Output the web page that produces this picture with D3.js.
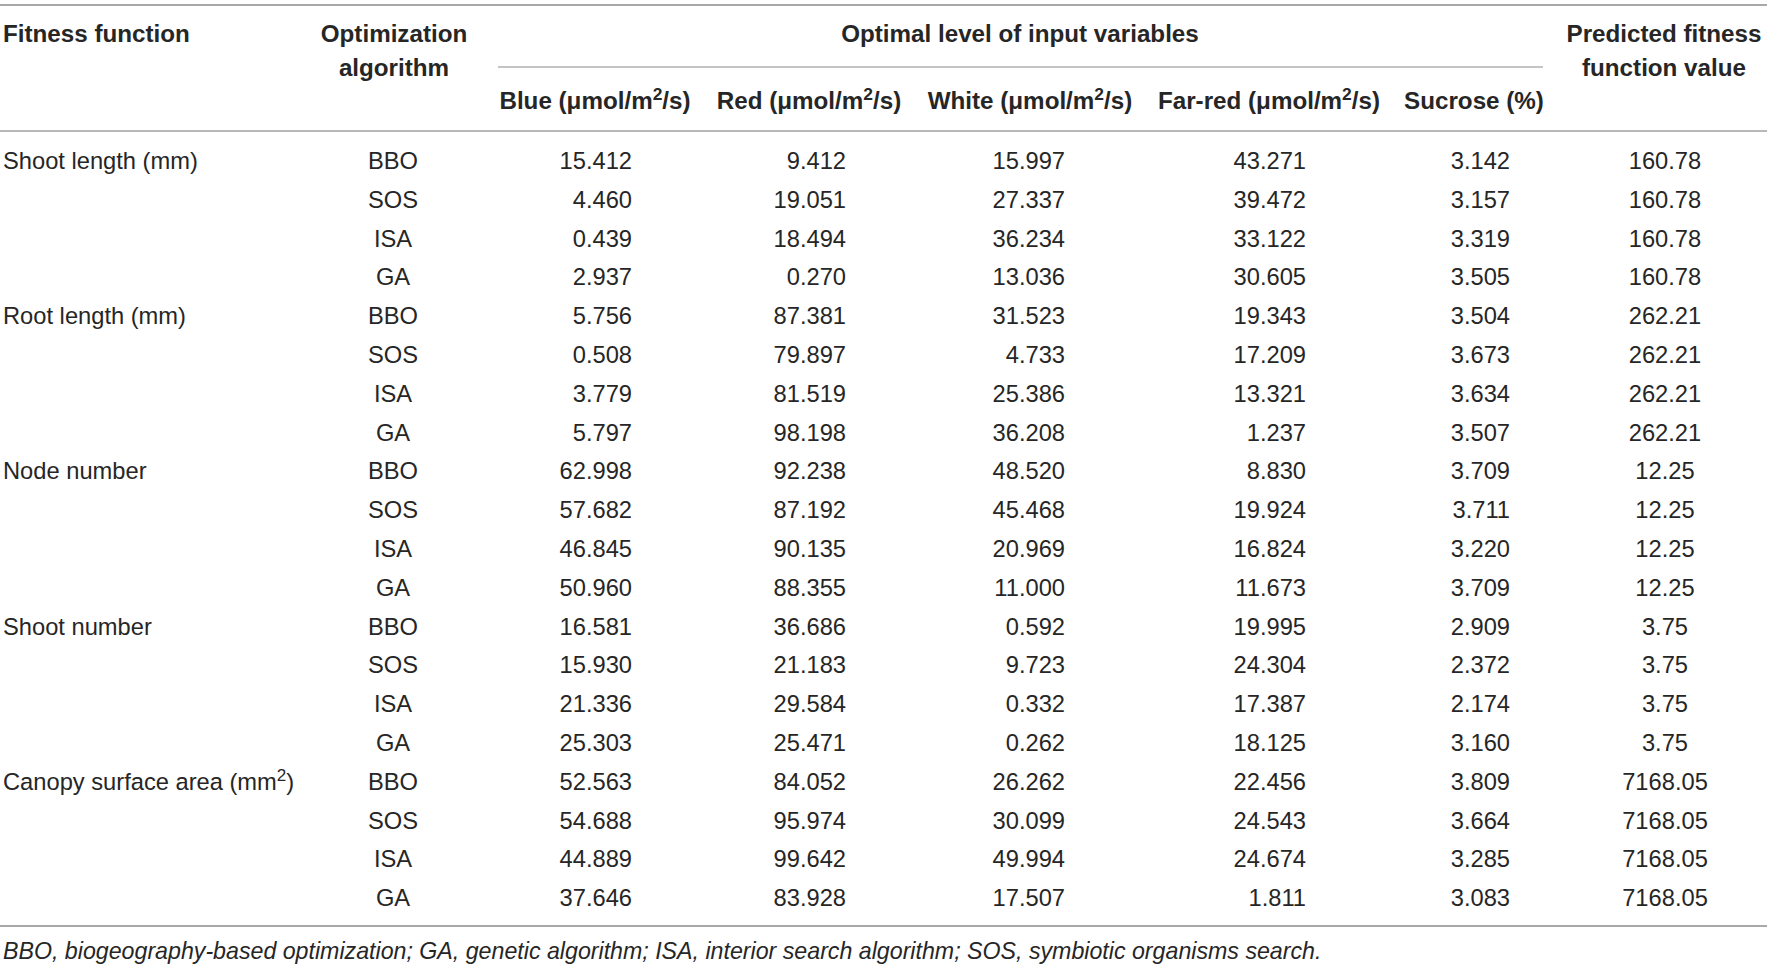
<!DOCTYPE html>
<html>
<head>
<meta charset="utf-8">
<script src="https://cdn.jsdelivr.net/npm/d3@7"></script>
<style>
  body { margin: 0; background: #fff; }
  svg { font-family: 'Liberation Sans', Arial, sans-serif; }
</style>
</head>
<body>
<svg></svg>
<script>
// table data
let fitnessFunctions = ['Shoot length (mm)', 'Root length (mm)', 'Node number', 'Shoot number', 'Canopy surface area (mm2)']
let algorithms = ['BBO', 'SOS', 'ISA', 'GA']
let blue = [15.412, 4.460, 0.439, 2.937, 5.756, 0.508, 3.779, 5.797, 62.998, 57.682, 46.845, 50.960,
            16.581, 15.930, 21.336, 25.303, 52.563, 54.688, 44.889, 37.646]
let red = [9.412, 19.051, 18.494, 0.270, 87.381, 79.897, 81.519, 98.198, 92.238, 87.192, 90.135, 88.355,
           36.686, 21.183, 29.584, 25.471, 84.052, 95.974, 99.642, 83.928]
let white = [15.997, 27.337, 36.234, 13.036, 31.523, 4.733, 25.386, 36.208, 48.520, 45.468, 20.969, 11.000,
             0.592, 9.723, 0.332, 0.262, 26.262, 30.099, 49.994, 17.507]
let farRed = [43.271, 39.472, 33.122, 30.605, 19.343, 17.209, 13.321, 1.237, 8.830, 19.924, 16.824, 11.673,
              19.995, 24.304, 17.387, 18.125, 22.456, 24.543, 24.674, 1.811]
let sucrose = [3.142, 3.157, 3.319, 3.505, 3.504, 3.673, 3.634, 3.507, 3.709, 3.711, 3.220, 3.709,
               2.909, 2.372, 2.174, 3.160, 3.809, 3.664, 3.285, 3.083]
let predicted = [160.78, 262.21, 12.25, 3.75, 7168.05]
let footnote = 'BBO, biogeography-based optimization; GA, genetic algorithm; ISA, interior search algorithm; SOS, symbiotic organisms search.'

let width = 1772
let height = 966
let lineRight = 1767

let svg = d3.select('svg').attr('width', width).attr('height', height)

let rows = d3.range(fitnessFunctions.length * algorithms.length)

let yScale = d3.scaleBand()
               .domain(rows)
               .range([141.3, 917.3])

let rowY = (i) => yScale(i) + yScale.bandwidth() / 2

let textColor = '#262626'

// horizontal rules
let rules = [
  {y: 5, x1: 0, x2: lineRight, w: 2, c: '#a8a8a8'},
  {y: 67, x1: 498, x2: 1543, w: 1.2, c: '#8a8a8a'},
  {y: 131, x1: 0, x2: lineRight, w: 2, c: '#b8b8b8'},
  {y: 926, x1: 0, x2: lineRight, w: 2, c: '#a8a8a8'}
]
svg.selectAll('line.rule')
   .data(rules)
   .enter()
   .append('line')
   .attr('class', 'rule')
   .attr('x1', (d) => d.x1)
   .attr('x2', (d) => d.x2)
   .attr('y1', (d) => d.y)
   .attr('y2', (d) => d.y)
   .attr('stroke', (d) => d.c)
   .attr('stroke-width', (d) => d.w)

// helper: text with optional superscript "2"
let addLabel = (g, str, x, y, anchor, opts) => {
  let t = g.append('text')
           .attr('x', x)
           .attr('y', y + opts.size * 0.35)
           .attr('text-anchor', anchor)
           .attr('fill', textColor)
           .attr('font-size', opts.size)
           .attr('font-weight', opts.weight || 'normal')
  let parts = str.split('2')
  if (opts.sup && parts.length > 1) {
    let rise = opts.size * 0.38
    parts.forEach((p, i) => {
      let sp = t.append('tspan').text(p)
      if (i > 0) sp.attr('dy', rise)
      if (i < parts.length - 1) {
        t.append('tspan').text('2')
         .attr('dy', -rise)
         .attr('font-size', opts.size * 0.72)
      }
    })
  } else {
    t.text(str)
  }
  return t
}

// header
let header = svg.append('g')
let hs = 24.2
let hw = 'bold'
addLabel(header, 'Fitness function', 3, 34, 'start', {size: hs, weight: hw})
addLabel(header, 'Optimization', 394, 34, 'middle', {size: hs, weight: hw})
addLabel(header, 'algorithm', 394, 68, 'middle', {size: hs, weight: hw})
addLabel(header, 'Optimal level of input variables', 1020, 34, 'middle', {size: hs, weight: hw})
addLabel(header, 'Predicted fitness', 1664, 34, 'middle', {size: hs, weight: hw})
addLabel(header, 'function value', 1664, 68, 'middle', {size: hs, weight: hw})

let varHeaders = ['Blue (μmol/m2/s)', 'Red (μmol/m2/s)', 'White (μmol/m2/s)', 'Far-red (μmol/m2/s)', 'Sucrose (%)']
let varHeaderX = [595, 809, 1030, 1269, 1474]
varHeaders.forEach((h, i) => {
  addLabel(header, h, varHeaderX[i], 101, 'middle', {size: hs, weight: hw, sup: true})
})

// body
let body = svg.append('g')
let bs = 23.7

fitnessFunctions.forEach((f, i) => {
  addLabel(body, f, 3, rowY(i * algorithms.length), 'start', {size: bs, sup: true})
})

body.selectAll('text.algo')
    .data(rows)
    .enter()
    .append('text')
    .attr('class', 'algo')
    .attr('x', 393)
    .attr('y', (d) => rowY(d))
    .attr('dy', '0.35em')
    .attr('text-anchor', 'middle')
    .attr('font-size', bs)
    .attr('fill', textColor)
    .text((d) => algorithms[d % algorithms.length])

let columns = [
  {values: blue, x: 632},
  {values: red, x: 846},
  {values: white, x: 1065},
  {values: farRed, x: 1306},
  {values: sucrose, x: 1510}
]
let fmt3 = d3.format('.3f')
columns.forEach((col) => {
  body.append('g')
      .selectAll('text')
      .data(col.values)
      .enter()
      .append('text')
      .attr('x', col.x)
      .attr('y', (d, i) => rowY(i))
      .attr('dy', '0.35em')
      .attr('text-anchor', 'end')
      .attr('font-size', bs)
      .attr('fill', textColor)
      .text((d) => fmt3(d))
})

let fmt2 = d3.format('.2f')
body.append('g')
    .selectAll('text')
    .data(rows)
    .enter()
    .append('text')
    .attr('x', 1665)
    .attr('y', (d) => rowY(d))
    .attr('dy', '0.35em')
    .attr('text-anchor', 'middle')
    .attr('font-size', bs)
    .attr('fill', textColor)
    .text((d) => fmt2(predicted[Math.floor(d / algorithms.length)]))

// footnote
svg.append('text')
   .attr('x', 3)
   .attr('y', 951)
   .attr('dy', '0.35em')
   .attr('font-size', 23.2)
   .attr('font-style', 'italic')
   .attr('fill', textColor)
   .text(footnote)
</script>
</body>
</html>
